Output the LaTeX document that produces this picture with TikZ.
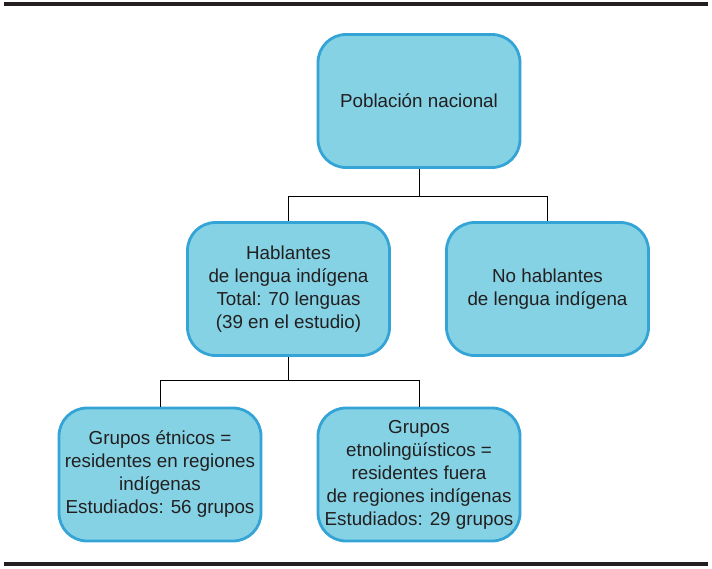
\documentclass[tikz,border=0pt]{standalone}
\usepackage{fontspec}
\setmainfont{Liberation Sans}
\usepackage{xcolor}
\usetikzlibrary{positioning, calc}
\definecolor{boxfill}{RGB}{132,210,228}
\definecolor{boxedge}{RGB}{52,164,214}
\definecolor{dtext} {RGB}{35,31,32}

\tikzset{
  grupo/.style={draw=boxedge, fill=boxfill, line width=2.8pt,
                rounded corners=28pt, minimum width=202pt,
                minimum height=133pt, align=center, text=dtext,
                font=\fontsize{18.8}{23}\selectfont, inner sep=2pt},
  rama/.style={draw=black, line width=0.9pt},
  barra/.style={draw=dtext, line width=4.5pt}
}

\begin{document}
\begin{tikzpicture}[x=1pt, y=-1pt]
  \useasboundingbox (0,0) rectangle (712,568);
  % thick rules at top and bottom
  \draw[barra] (4,4) coordinate (tl) -- (708,4) coordinate (tr);
  \draw[barra] (4,564) coordinate (bl) -- (708,564) coordinate (br);

  % boxes
  \node[grupo] (pob)   at (419,101)   {Población nacional};
  \node[grupo] (habl)  at (288.5,289) {Hablantes\\de lengua indígena\\Total: 70 lenguas\\(39 en el estudio)};
  \node[grupo] (nohab) at (547.5,289) {No hablantes\\de lengua indígena};
  \node[grupo] (etn)   at (160,474.5) {Grupos étnicos =\\residentes en regiones\\indígenas\\Estudiados: 56 grupos};
  \node[grupo] (etnl)  at (419,474.5) {Grupos\\etnolingüísticos =\\residentes fuera\\de regiones indígenas\\Estudiados: 29 grupos};

  % branches
  \draw[rama] (pob.south) -- ++(0,28) coordinate (j1);
  \draw[rama] (j1) -| (habl.north);
  \draw[rama] (j1) -| (nohab.north);
  \draw[rama] (habl.south) -- ++(0,24) coordinate (j2);
  \draw[rama] (j2) -| (etn.north);
  \draw[rama] (j2) -| (etnl.north);
\end{tikzpicture}
\end{document}
